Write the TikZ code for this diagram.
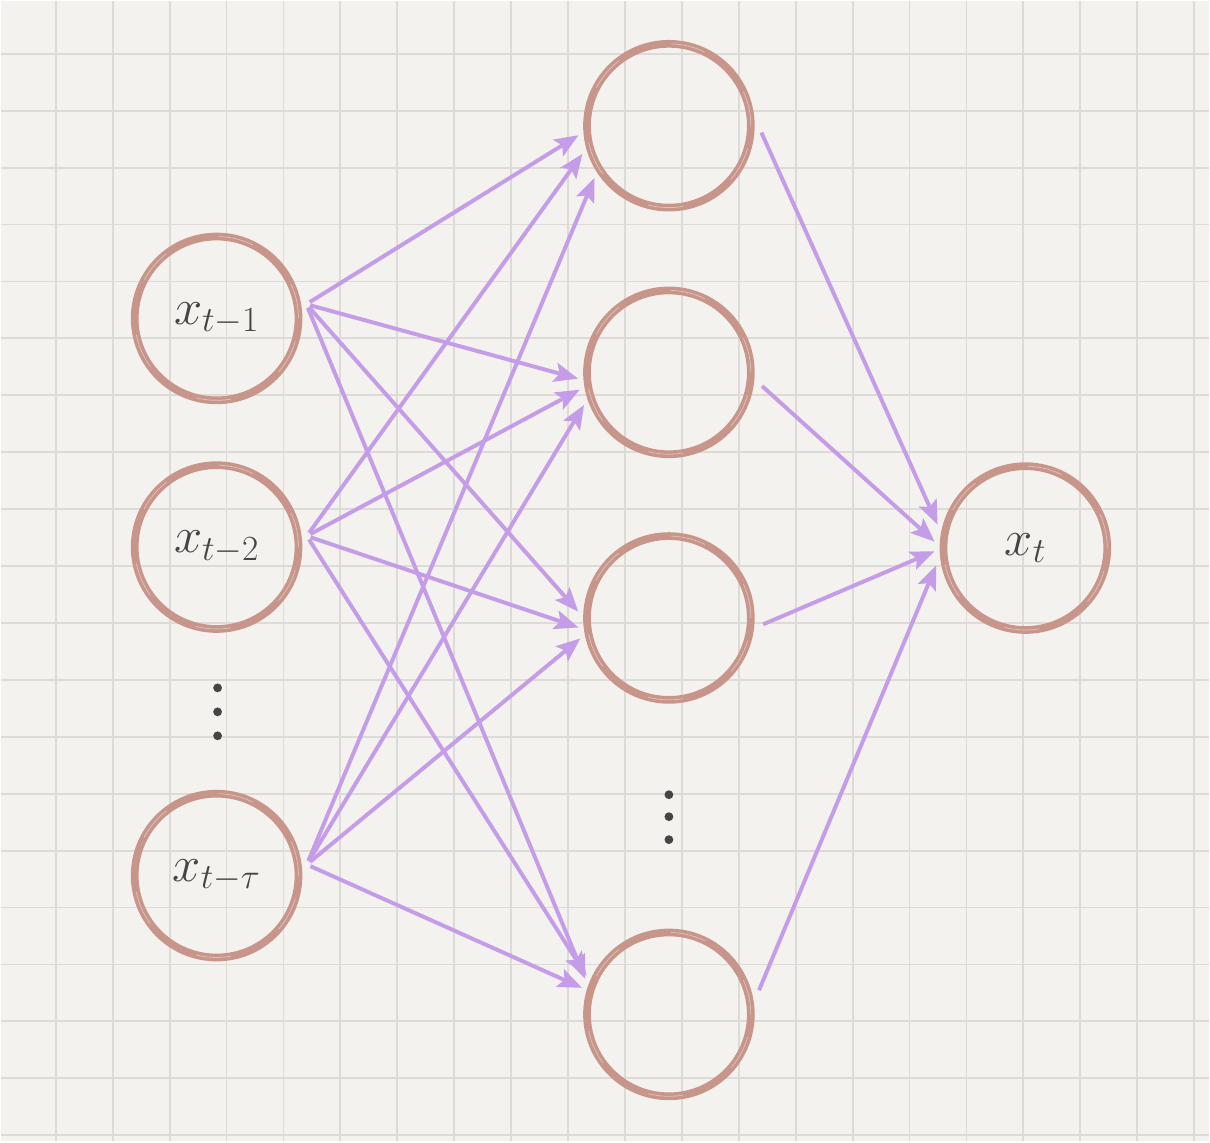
\RequirePackage{fix-cm}
\documentclass[tikz,border=0pt]{standalone}
\usetikzlibrary{arrows.meta}

\definecolor{paper}{HTML}{F3F2EE}
\definecolor{gridgray}{HTML}{DCDBD7}
\definecolor{brush}{HTML}{C8958A}
\definecolor{lilac}{HTML}{C49CE8}
\definecolor{ink}{HTML}{454545}

\tikzset{
  neuron/.style={circle, draw=brush, line width=5.5pt, minimum size=4.1cm,
    inner sep=0pt, outer sep=0.225cm, text=ink, font=\fontsize{36}{42}\selectfont,
    postaction={draw=paper, draw opacity=0.5, line width=0.5pt,
      dash pattern=on 25pt off 40pt}},
  links/.style={every edge/.style={draw=lilac, line width=2.8pt, shorten <=0.1cm,
    -{Stealth[length=0.6cm,width=0.48cm,inset=0.12cm]}}},
  gridline/.style={draw=gridgray, line width=1.3pt},
  dot/.style={fill=ink}
}

\begin{document}
\begin{tikzpicture}[x=0.025cm, y=0.025cm]
  \fill[paper] (0,0) rectangle (1210,1142);
  \foreach \gx in {55,112,...,1195}
    \draw[gridline] (\gx,0) -- (\gx,1142);
  \foreach \gy in {6,63,...,1089}
    \draw[gridline] (0,\gy) -- (1210,\gy);

  \node[neuron] (x1) at (216,824) {$x_{t-1}$};
  \node[neuron] (x2) at (216,595) {$x_{t-2}$};
  \node[neuron] (xtau) at (216,266) {$x_{t-\tau}$};
  \node[neuron] (h1) at (669,1017) {};
  \node[neuron] (h2) at (669,770) {};
  \node[neuron] (h3) at (669,524) {};
  \node[neuron] (h4) at (669,127) {};
  \node[neuron] (xt) at (1026,594) {$x_t$};

  \fill[dot] (217,454) circle[radius=0.11cm];
  \fill[dot] (217,430) circle[radius=0.11cm];
  \fill[dot] (217,406) circle[radius=0.11cm];
  \fill[dot] (669,347) circle[radius=0.11cm];
  \fill[dot] (669,325) circle[radius=0.11cm];
  \fill[dot] (669,302) circle[radius=0.11cm];

  \path[links] (x1.9)
       edge (h1.186) edge (h2.184) edge (h3.176) edge (h4.157);
  \path[links] (x2.7)
       edge (h1.198) edge (h2.191) edge (h3.186) edge (h4.155);
  \path[links] (xtau.7)
       edge (h1.215) edge (h2.201) edge (h3.193) edge (h4.163);
  \path[links] (h1.-2) edge (xt.165);
  \path[links] (h2.-7) edge (xt.176);
  \path[links] (h3.-5) edge (xt.182);
  \path[links] (h4.13) edge (xt.191);
\end{tikzpicture}
\end{document}
